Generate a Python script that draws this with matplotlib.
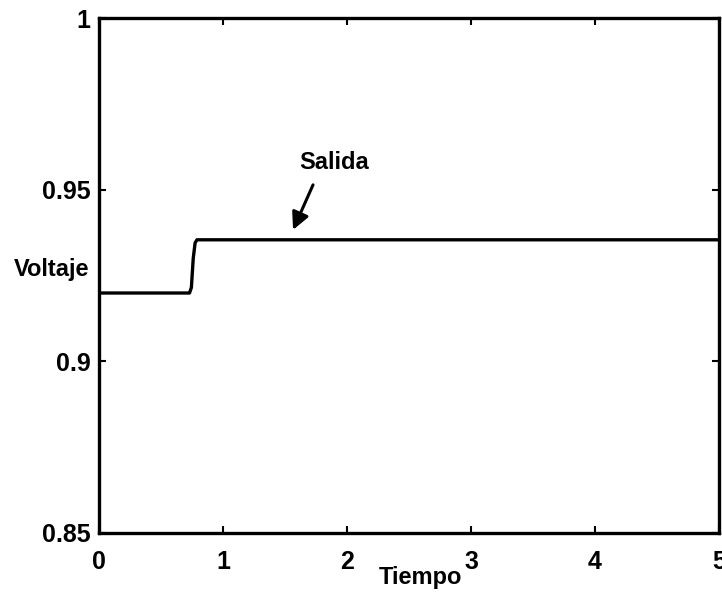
import matplotlib
matplotlib.use("Agg")
import matplotlib.pyplot as plt

# salida del sistema: escalon pequeno cerca de t=0.75
tiempo = [0.0, 0.73, 0.745, 0.76, 0.775, 0.79, 5.0]
voltaje = [0.9199, 0.9199, 0.9215, 0.9300, 0.9345, 0.9354, 0.9354]

xticks = [0, 1, 2, 3, 4, 5]
yticks = [0.85, 0.9, 0.95, 1.0]
ytick_labels = ["0.85", "0.9", "0.95", "1"]

plt.rcParams['font.family'] = ['Liberation Sans', 'DejaVu Sans']
plt.rcParams['font.weight'] = 'bold'

fig = plt.figure(figsize=(7.22, 5.96), dpi=100)
ax = fig.add_axes([99/722, 1 - 533/596, (719-99)/722, (533-18)/596])

ax.plot(tiempo, voltaje, color="black", lw=2.4)

ax.set_xlim(0, 5)
ax.set_ylim(0.85, 1.0)
ax.set_xticks(xticks)
ax.set_yticks(yticks)
ax.set_yticklabels(ytick_labels)
ax.tick_params(direction="in", length=5, width=1.5, top=True, right=True,
               labelsize=18)
ax.tick_params(axis="x", pad=12)
ax.tick_params(axis="y", pad=6)
for s in ax.spines.values():
    s.set_linewidth(2.4)

ax.set_xlabel("Tiempo", fontsize=17, fontweight="bold", va="center")
ax.xaxis.set_label_coords(0.519, -0.087)
ax.set_ylabel("Voltaje", fontsize=17, fontweight="bold", rotation=0,
              ha="center", va="center")
ax.yaxis.set_label_coords(-0.076, 0.511)

# etiqueta y flecha hacia la curva
ax.text(1.9, 0.958, "Salida", fontsize=17, fontweight="bold",
        ha="center", va="center")
ax.annotate("", xy=(1.565, 0.9383), xytext=(1.726, 0.9514),
            arrowprops=dict(arrowstyle="-|>", color="black", lw=2.2,
                            mutation_scale=26, shrinkA=0, shrinkB=0))

fig.savefig("out.png", dpi=100)
